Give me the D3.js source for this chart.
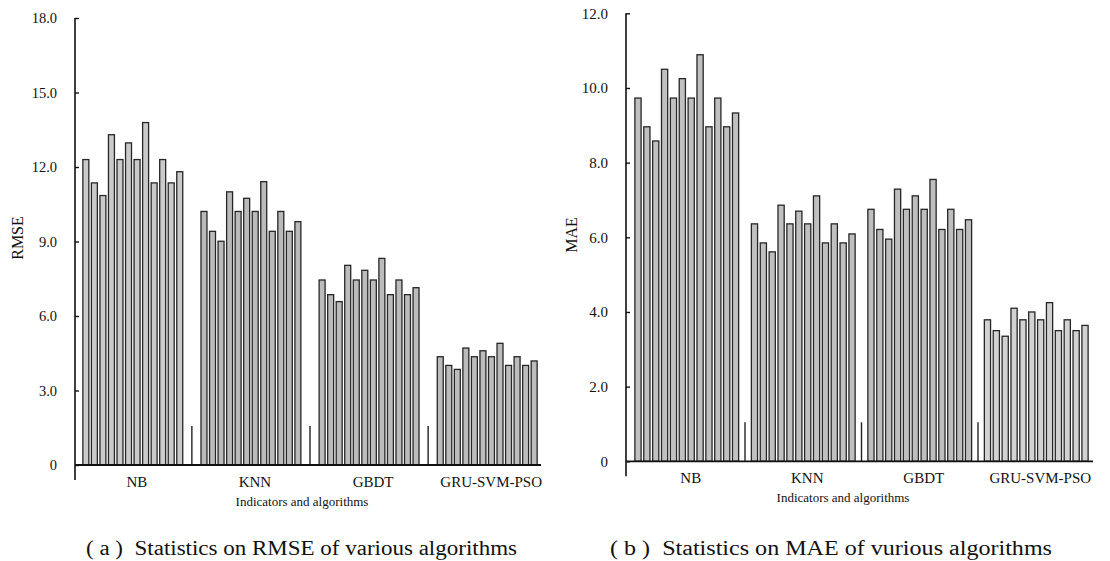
<!DOCTYPE html>
<html>
<head>
<meta charset="utf-8">
<script src="https://cdn.jsdelivr.net/npm/d3@7/dist/d3.min.js"></script>
<style>
  html, body { margin: 0; padding: 0; background: #fff; }
  svg { display: block; }
</style>
</head>
<body>
<svg id="chart" width="1110" height="561" style="font-family: 'Liberation Serif', 'DejaVu Serif', serif;"></svg>
<script>
// ---- data ----
const categories = ["NB", "KNN", "GBDT", "GRU-SVM-PSO"];

const rmseNB   = [12.30, 11.36, 10.85, 13.30, 12.30, 12.97, 12.30, 13.79, 11.36, 12.30, 11.36, 11.81];
const rmseKNN  = [10.21, 9.41, 9.01, 11.00, 10.21, 10.74, 10.21, 11.41, 9.41, 10.21, 9.41, 9.80];
const rmseGBDT = [7.45, 6.86, 6.58, 8.04, 7.45, 7.84, 7.45, 8.32, 6.86, 7.45, 6.86, 7.14];
const rmseGRU  = [4.36, 4.01, 3.85, 4.71, 4.36, 4.60, 4.36, 4.90, 4.01, 4.36, 4.01, 4.19];

const maeNB   = [9.73, 8.96, 8.58, 10.50, 9.73, 10.25, 9.73, 10.89, 8.96, 9.73, 8.96, 9.33];
const maeKNN  = [6.36, 5.85, 5.61, 6.86, 6.36, 6.70, 6.36, 7.11, 5.85, 6.36, 5.85, 6.09];
const maeGBDT = [6.75, 6.21, 5.95, 7.29, 6.75, 7.11, 6.75, 7.55, 6.21, 6.75, 6.21, 6.47];
const maeGRU  = [3.79, 3.50, 3.35, 4.10, 3.79, 4.00, 3.79, 4.25, 3.50, 3.79, 3.50, 3.64];

const rmseTicks = [0, 3, 6, 9, 12, 15, 18];
const maeTicks  = [0, 2, 4, 6, 8, 10, 12];

const rmseTitle = "RMSE";
const maeTitle = "MAE";
const xTitle = "Indicators and algorithms";
const captionA = "( a )  Statistics on RMSE of various algorithms";
const captionB = "( b )  Statistics on MAE of vurious algorithms";

// ---- drawing ----
const FONT = "'Liberation Serif', 'DejaVu Serif', serif";
const svg = d3.select("#chart");

function txt(sel) {
  return sel.style("font-family", FONT).attr("fill", "#111");
}

function drawChart(cfg) {
  const g = svg.append("g");
  const y = d3.scaleLinear().domain([0, cfg.yMax]).range([cfg.y0, cfg.y1]);
  const x0 = d3.scaleBand().domain(categories).range(cfg.xRange).paddingInner(cfg.groupPad).paddingOuter(0);
  const idx = d3.range(cfg.series[0].length);
  const x1 = d3.scaleBand().domain(idx).range([0, x0.bandwidth()]).paddingInner(0.3).paddingOuter(0.1);

  // bars
  categories.forEach((c, ci) => {
    g.append("g")
      .selectAll("rect")
      .data(cfg.series[ci])
      .join("rect")
      .attr("x", (d, i) => x0(c) + x1(i))
      .attr("y", d => y(d))
      .attr("width", x1.bandwidth())
      .attr("height", d => y(0) - y(d))
      .attr("fill", cfg.fills[ci])
      .attr("stroke", "#262626")
      .attr("stroke-width", 1.3);
  });

  // separators between groups
  for (let i = 0; i < categories.length - 1; i++) {
    const xs = (x0(categories[i]) + x0.bandwidth() + x0(categories[i + 1])) / 2;
    g.append("line")
      .attr("x1", xs).attr("x2", xs)
      .attr("y1", y(0)).attr("y2", y(0) - 39)
      .attr("stroke", "#222").attr("stroke-width", 1.4);
  }

  // y axis
  const axis = d3.axisLeft(y)
    .tickValues(cfg.ticks)
    .tickSizeInner(-4)
    .tickSizeOuter(0)
    .tickPadding(18)
    .tickFormat(d => d === 0 ? "0" : d.toFixed(1));
  const ag = g.append("g").attr("transform", `translate(${cfg.axisX},0)`).call(axis);
  ag.attr("font-family", null);
  ag.select(".domain").remove();
  ag.selectAll(".tick line").attr("stroke", "#111").attr("stroke-width", 1.4);
  txt(ag.selectAll(".tick text")).attr("font-size", cfg.tickFont);

  // axis lines
  g.append("line")
    .attr("x1", cfg.axisX).attr("x2", cfg.axisX)
    .attr("y1", y(cfg.yMax)).attr("y2", y(0) + 15)
    .attr("stroke", "#111").attr("stroke-width", 1.6);
  g.append("line")
    .attr("x1", cfg.axisX).attr("x2", cfg.xAxisEnd)
    .attr("y1", y(0)).attr("y2", y(0))
    .attr("stroke", "#111").attr("stroke-width", 1.8);

  // category labels
  txt(g.append("g").selectAll("text")
    .data(categories)
    .join("text")
    .attr("x", c => x0(c) + x0.bandwidth() / 2 + 4)
    .attr("y", y(0) + 22)
    .attr("text-anchor", "middle")
    .attr("font-size", 15)
    .text(c => c));

  // x title
  txt(g.append("text")
    .attr("x", cfg.xTitleX)
    .attr("y", y(0) + 41)
    .attr("text-anchor", "middle")
    .attr("font-size", 13)
    .text(xTitle));

  // y title
  txt(g.append("text")
    .attr("transform", `translate(${cfg.yTitleX},${cfg.yTitleY}) rotate(-90)`)
    .attr("text-anchor", "middle")
    .attr("font-size", 16)
    .text(cfg.yTitle));

  // caption
  txt(g.append("text")
    .attr("x", cfg.capX)
    .attr("y", 555)
    .attr("font-size", 20)
    .attr("textLength", cfg.capW)
    .attr("lengthAdjust", "spacingAndGlyphs")
    .style("white-space", "pre")
    .text(cfg.caption));
}

drawChart({
  series: [rmseNB, rmseKNN, rmseGBDT, rmseGRU],
  fills: ["#cacaca", "#bababa", "#bcbcbc", "#bcbcbc"],
  yMax: 18, y0: 465, y1: 18,
  ticks: rmseTicks,
  xRange: [82, 538], groupPad: 0.14,
  axisX: 75, xAxisEnd: 541,
  tickFont: 14.5,
  xTitleX: 302,
  yTitle: rmseTitle, yTitleX: 23, yTitleY: 238,
  caption: captionA, capX: 86, capW: 431
});

drawChart({
  series: [maeNB, maeKNN, maeGBDT, maeGRU],
  fills: ["#c0c0c0", "#c0c0c0", "#bebebe", "#d2d2d2"],
  yMax: 12, y0: 461.3, y1: 13.3,
  ticks: maeTicks,
  xRange: [634, 1089], groupPad: 0.094,
  axisX: 626, xAxisEnd: 1093,
  tickFont: 15,
  xTitleX: 843,
  yTitle: maeTitle, yTitleX: 577, yTitleY: 235,
  caption: captionB, capX: 610, capW: 442
});
</script>
</body>
</html>
